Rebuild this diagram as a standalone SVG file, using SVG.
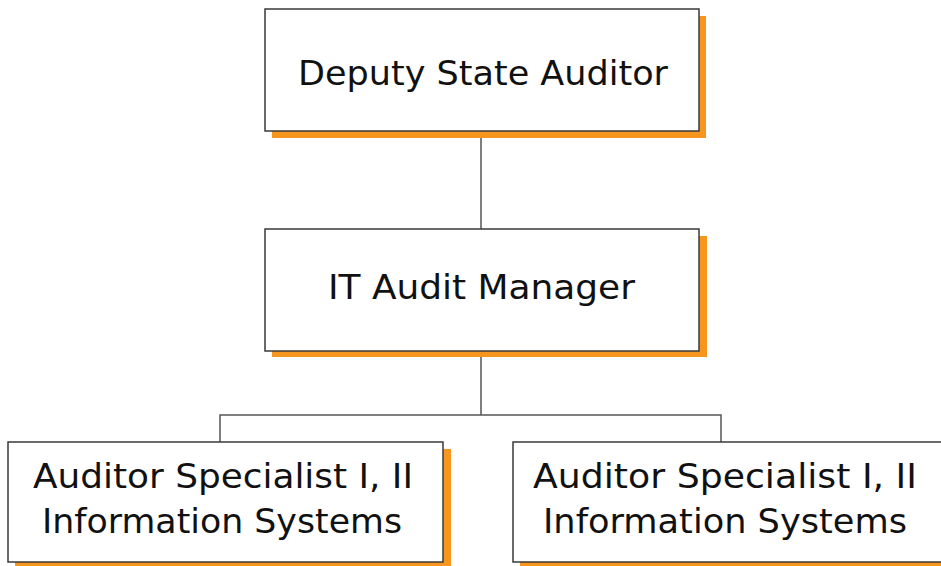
<svg xmlns="http://www.w3.org/2000/svg" width="941" height="566" viewBox="0 0 941 566">
<style>
.shadow{fill:#f7961e}
.box{fill:#ffffff;stroke:#3a3a3a;stroke-width:1.5}
.lbl{font-family:"DejaVu Sans","Verdana",sans-serif;font-size:34px;fill:#111}
.conn{stroke:#555;stroke-width:1.5;fill:none}
</style>
<rect width="941" height="566" fill="#ffffff"/>
<g id="connectors">
<line class="conn" x1="481" y1="131" x2="481" y2="229"/>
<line class="conn" x1="481" y1="351" x2="481" y2="415"/>
<polyline class="conn" points="220,442 220,415 721,415 721,442"/>
</g>
<g id="deputy">
<rect class="shadow" x="272" y="16" width="434" height="122"/>
<rect class="box" x="265" y="9" width="434" height="122"/>
<text class="lbl" x="298" y="85" textLength="370" lengthAdjust="spacingAndGlyphs">Deputy State Auditor</text>
</g>
<g id="manager">
<rect class="shadow" x="272" y="236" width="435" height="121"/>
<rect class="box" x="265" y="229" width="434" height="122"/>
<text class="lbl" x="328" y="299" textLength="307" lengthAdjust="spacingAndGlyphs">IT Audit Manager</text>
</g>
<g id="specialist1">
<rect class="shadow" x="15" y="449" width="436" height="117"/>
<rect class="box" x="8" y="442" width="435" height="120"/>
<text class="lbl" x="33" y="488" textLength="380" lengthAdjust="spacingAndGlyphs">Auditor Specialist I, II</text>
<text class="lbl" x="42" y="533" textLength="360" lengthAdjust="spacingAndGlyphs">Information Systems</text>
</g>
<g id="specialist2">
<rect class="shadow" x="520" y="449" width="430" height="117"/>
<rect class="box" x="513" y="442" width="440" height="120"/>
<text class="lbl" x="533" y="488" textLength="384" lengthAdjust="spacingAndGlyphs">Auditor Specialist I, II</text>
<text class="lbl" x="543" y="533" textLength="364" lengthAdjust="spacingAndGlyphs">Information Systems</text>
</g>
</svg>
